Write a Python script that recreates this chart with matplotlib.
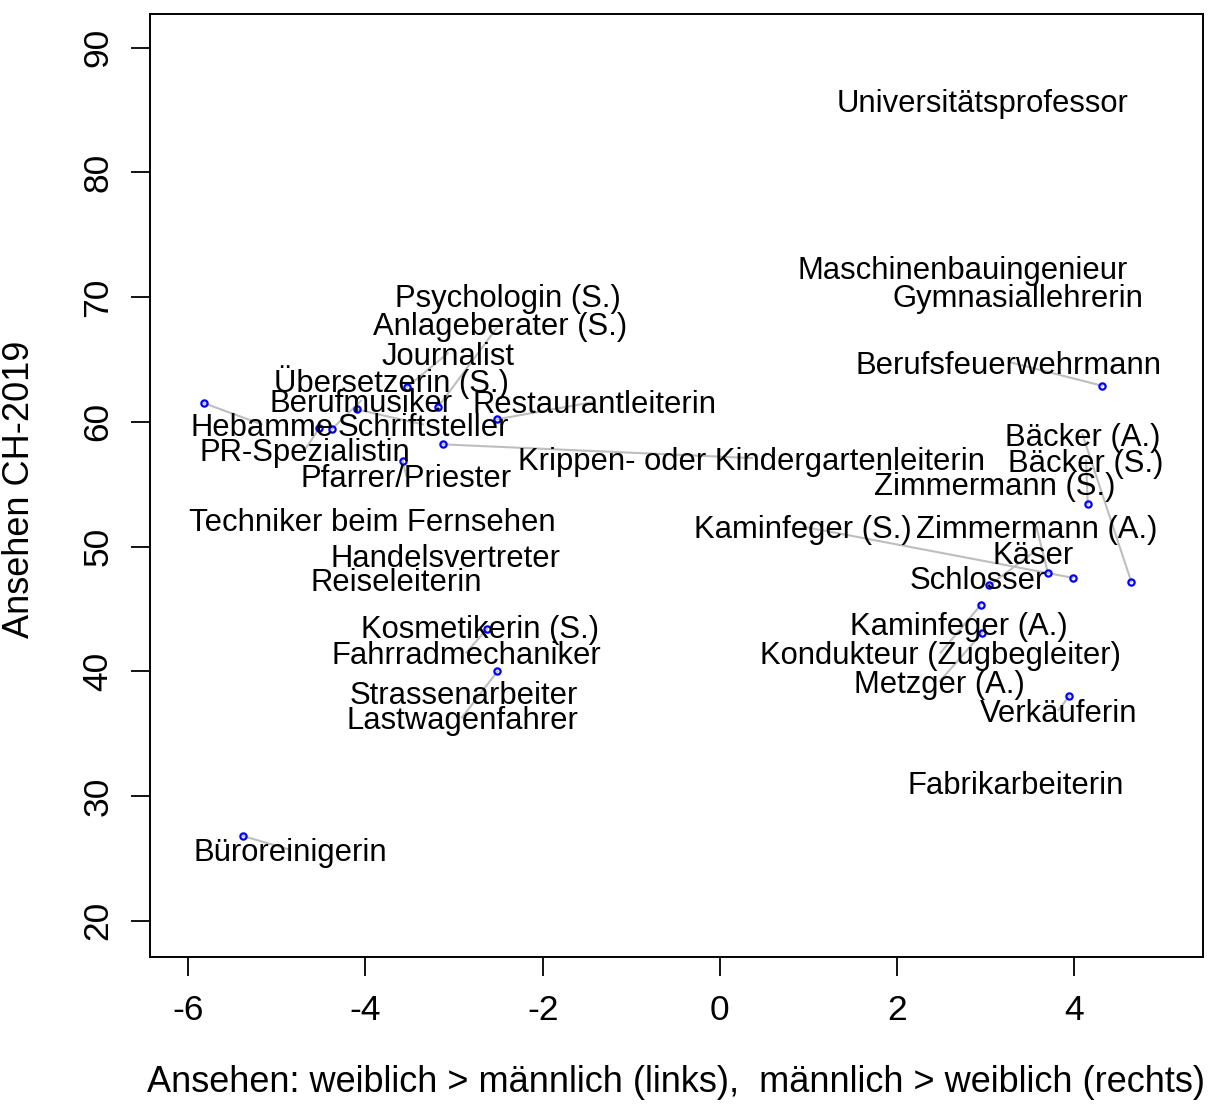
import matplotlib.pyplot as plt

plt.rcParams['font.family'] = ['Liberation Sans', 'DejaVu Sans']
plt.rcParams['axes.unicode_minus'] = False

# labels that were moved away from their point (point + grey connector)
moved_names = ['Hebamme', 'PR-Spezialistin', 'Berufmusiker', 'Schriftsteller',
               'Journalist', 'Anlageberater (S.)', 'Restaurantleiterin',
               'Krippen- oder Kindergartenleiterin', 'Pfarrer/Priester',
               'Büroreinigerin', 'Fahrradmechaniker', 'Lastwagenfahrer',
               'Berufsfeuerwehrmann', 'Bäcker (A.)', 'Bäcker (S.)',
               'Zimmermann (A.)', 'Kaminfeger (S.)', 'Käser',
               'Kondukteur (Zugbegleiter)', 'Metzger (A.)', 'Verkäuferin']
moved_x = [-5.82, -4.52, -4.38, -4.10, -3.53, -3.18, -2.52, -3.13, -3.58,
           -5.38, -2.63, -2.51, 4.31, 4.64, 4.15, 3.70, 3.98, 3.04,
           2.94, 2.96, 3.94]
moved_y = [61.5, 59.5, 59.4, 61.0, 62.8, 61.2, 60.2, 58.2, 56.9,
           26.8, 43.4, 40.0, 62.9, 47.2, 53.4, 47.9, 47.5, 46.9,
           45.3, 43.1, 38.0]
moved_lab_x = [-5.17, -4.68, -4.05, -3.35, -3.07, -2.48, -1.42, 0.36, -3.54,
               -4.85, -2.86, -2.91, 3.26, 4.09, 4.13, 3.57, 0.94, 3.53,
               2.49, 2.48, 3.82]
moved_lab_y = [59.8, 57.8, 61.7, 59.8, 65.5, 67.9, 61.6, 57.1, 55.7,
               25.7, 41.5, 36.3, 64.8, 59.0, 56.9, 51.6, 51.6, 49.5,
               41.5, 39.2, 36.9]

# labels drawn at their own position
fixed_names = ['Universitätsprofessor', 'Maschinenbauingenieur',
               'Gymnasiallehrerin', 'Psychologin (S.)', 'Übersetzerin (S.)',
               'Techniker beim Fernsehen', 'Handelsvertreter', 'Reiseleiterin',
               'Kosmetikerin (S.)', 'Strassenarbeiter', 'Zimmermann (S.)',
               'Schlosser', 'Kaminfeger (A.)', 'Fabrikarbeiterin']
fixed_x = [2.96, 2.74, 3.36, -2.39, -3.71, -3.92, -3.10, -3.65,
           -2.71, -2.89, 3.10, 2.91, 2.69, 3.34]
fixed_y = [85.75, 72.4, 70.1, 70.1, 63.5, 52.2, 49.3, 47.4,
           43.6, 38.3, 55.1, 47.5, 43.8, 31.1]

fig = plt.figure(figsize=(12.28, 11.14), dpi=100)
ax = fig.add_axes([150/1228, 1-957/1114, 1053/1228, 943/1114])

for x, y, lx, ly in zip(moved_x, moved_y, moved_lab_x, moved_lab_y):
    ax.plot([x, lx], [y, ly], color='#bebebe', lw=1.5, zorder=1)
ax.plot(moved_x, moved_y, 'o', ms=4.5, mfc='none', mec='blue', mew=1.6, zorder=2)

for n, lx, ly in zip(moved_names, moved_lab_x, moved_lab_y):
    ax.text(lx, ly, n, ha='center', va='center_baseline', fontsize=22.3, zorder=3)
for n, lx, ly in zip(fixed_names, fixed_x, fixed_y):
    ax.text(lx, ly, n, ha='center', va='center_baseline', fontsize=22.3, zorder=3)

ax.set_xlim(-6.43, 5.45)
ax.set_ylim(17.1, 92.7)
ax.set_xticks([-6, -4, -2, 0, 2, 4])
ax.set_yticks([20, 30, 40, 50, 60, 70, 80, 90])
ax.tick_params(axis='both', direction='out', length=13.5, width=1.3, labelsize=25.5)
ax.tick_params(axis='x', pad=13)
ax.tick_params(axis='y', pad=12, labelrotation=90)
plt.setp(ax.get_yticklabels(), va='center')
for s in ax.spines.values():
    s.set_linewidth(1.4)

fig.text(676/1228, 1-1082/1114, 'Ansehen: weiblich > männlich (links),  männlich > weiblich (rechts)',
         ha='center', va='center', fontsize=26)
fig.text(20/1228, 1-489/1114, 'Ansehen CH-2019', ha='center', va='center',
         rotation=90, fontsize=26)

fig.savefig('out.png', dpi=100)
